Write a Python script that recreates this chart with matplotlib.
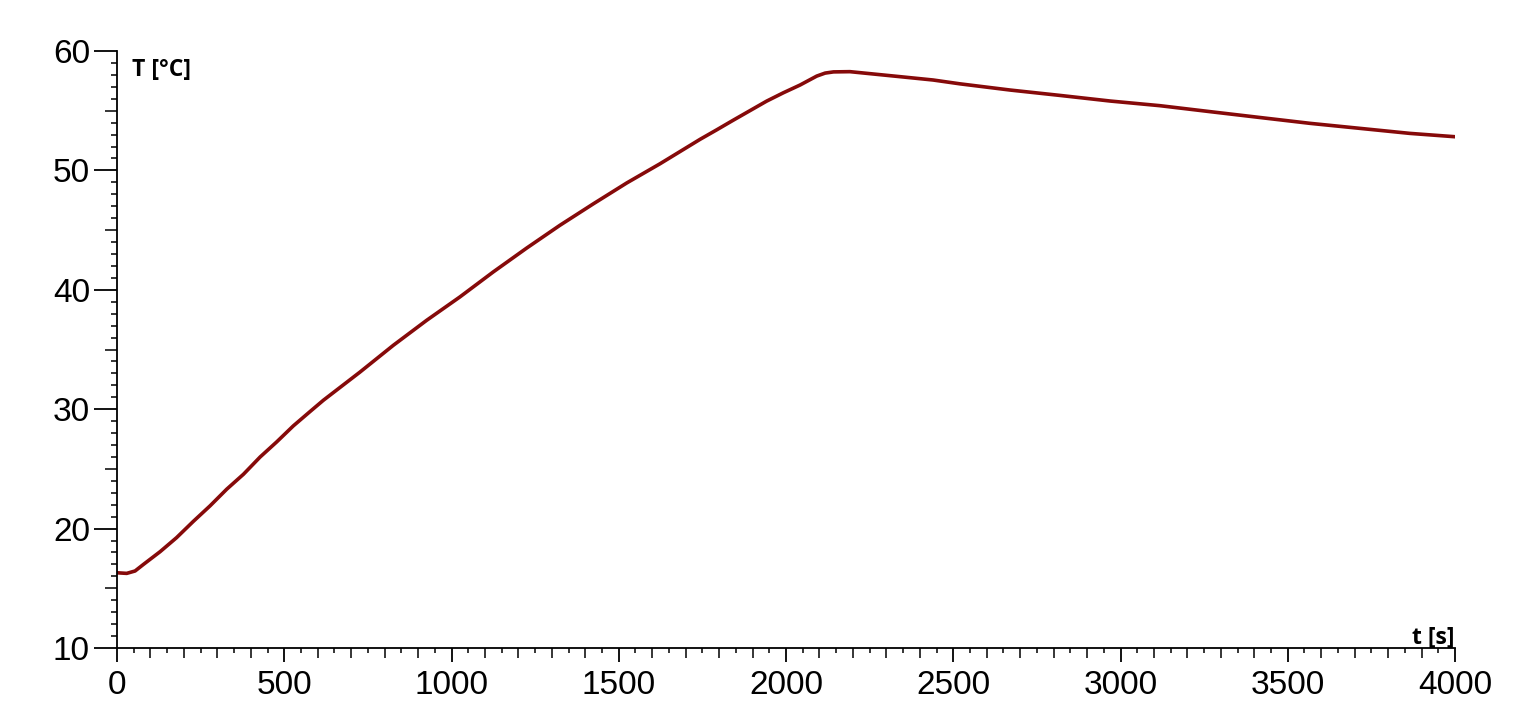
import numpy as np
from matplotlib import pyplot as plt
from matplotlib.ticker import MultipleLocator, FixedLocator, NullFormatter

# Temperature curve (t in s, T in degC)
t_s = [0, 29, 54, 79, 129, 178, 228, 278, 328, 378, 428, 477, 527, 577, 617,
       726, 826, 926, 1025, 1125, 1225, 1324, 1424, 1524, 1623,
       1743, 1793, 1842, 1892, 1942, 1992, 2042, 2072, 2092, 2117, 2142, 2191,
       2241, 2341, 2440, 2520, 2670, 2819, 2969, 3118, 3268, 3417, 3567,
       3716, 3865, 3995]
temp_c = [16.3, 16.25, 16.45, 17.0, 18.07, 19.24, 20.6, 21.9, 23.3, 24.55,
          26.0, 27.25, 28.6, 29.8, 30.75,
          33.1, 35.35, 37.45, 39.4, 41.5, 43.5, 45.4, 47.2, 48.95, 50.55,
          52.6, 53.4, 54.2, 55.0, 55.8, 56.5, 57.15, 57.6, 57.9, 58.15, 58.25,
          58.27, 58.13, 57.85, 57.57, 57.25, 56.73, 56.28, 55.81, 55.42,
          54.92, 54.43, 53.94, 53.52, 53.1, 52.83]

x_major = [0, 500, 1000, 1500, 2000, 2500, 3000, 3500, 4000]
y_major = [10, 20, 30, 40, 50, 60]

plt.rcParams['font.family'] = ['Liberation Sans', 'DejaVu Sans']

W, H = 1535, 723
fig = plt.figure(figsize=(W / 100, H / 100), dpi=100)
ax = fig.add_axes([117 / W, (H - 648) / H, (1455 - 117) / W, (648 - 51) / H])

ax.plot(t_s, temp_c, color='#860a0a', linewidth=2.6, solid_joinstyle='round')

ax.set_xlim(0, 4000)
ax.set_ylim(10, 60)
for side in ('top', 'right'):
    ax.spines[side].set_visible(False)
for side in ('left', 'bottom'):
    ax.spines[side].set_linewidth(1.3)
    ax.spines[side].set_color('black')

# major + medium ticks
ax.xaxis.set_major_locator(FixedLocator(x_major))
ax.xaxis.set_minor_locator(MultipleLocator(100))
ax.yaxis.set_major_locator(FixedLocator(y_major))
ax.yaxis.set_minor_locator(MultipleLocator(5))
ax.tick_params(axis='x', which='major', direction='out', length=10, width=1.3,
               labelsize=24, pad=6)
ax.tick_params(axis='x', which='minor', direction='out', length=7, width=1.1)
ax.tick_params(axis='y', which='major', direction='out', length=16.5, width=1.3,
               labelsize=24, pad=3)
ax.tick_params(axis='y', which='minor', direction='out', length=8.6, width=1.1)

# smallest ticks through secondary axes
secx = ax.secondary_xaxis('bottom')
secx.spines['bottom'].set_visible(False)
secx.xaxis.set_major_locator(FixedLocator(np.arange(50, 4000, 100)))
secx.xaxis.set_major_formatter(NullFormatter())
secx.tick_params(axis='x', direction='out', length=3.6, width=1.1)

secy = ax.secondary_yaxis('left')
secy.spines['left'].set_visible(False)
secy.yaxis.set_major_locator(FixedLocator([v for v in range(11, 60) if v % 5]))
secy.yaxis.set_major_formatter(NullFormatter())
secy.tick_params(axis='y', direction='out', length=4.3, width=1.1)

# axis captions inside the plot
ax.text(132 / W, 1 - 58 / H, 'T [°C]', transform=fig.transFigure,
        fontsize=16.5, fontweight='bold', family=['Open Sans', 'DejaVu Sans'],
        ha='left', va='top')
ax.text(1455 / W, 1 - 644 / H, 't [s]', transform=fig.transFigure,
        fontsize=16.5, fontweight='bold', family=['Open Sans', 'DejaVu Sans'],
        ha='right', va='baseline')

fig.savefig('out.png', dpi=100, facecolor='white')
